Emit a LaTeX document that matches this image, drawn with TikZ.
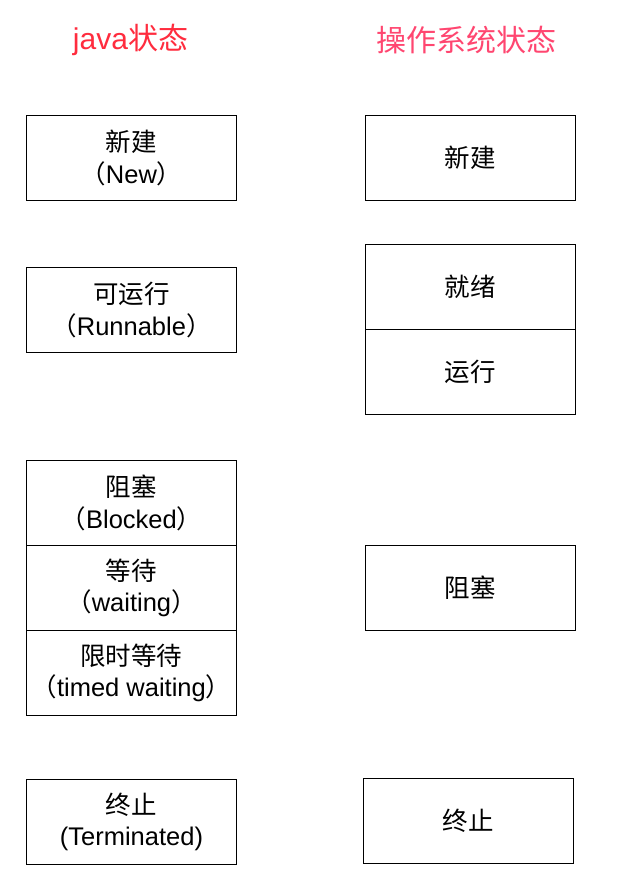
\documentclass[tikz,border=0pt]{standalone}
\usepackage{fontspec}
\setmainfont{Liberation Sans}
\newfontfamily\cjk{Noto Sans CJK SC}
\definecolor{javared}{RGB}{255,44,62}
\definecolor{osred}{RGB}{255,70,112}
\begin{document}
\begin{tikzpicture}[x=1pt,y=-1pt,
  box/.style={draw=black,line width=0.9pt,minimum width=210pt,minimum height=85pt,inner sep=0pt,align=center,font=\fontsize{25.5}{31.5}\selectfont,anchor=north west},
  title/.style={font=\fontsize{30}{35}\selectfont}]
\useasboundingbox (0,0) rectangle (627,895);
% titles
\node[title,text=javared] (tj) at (130.5,40) {java{\cjk 状态}};
\node[title,text=osred] (to) at (466,40) {\cjk 操作系统状态};
% java column
\node[box] (jnew) at (26,115) {{\cjk 新建}\\{\cjk （}New{\cjk ）}};
\node[box] (jrun) at (26,267) {{\cjk 可运行}\\{\cjk （}Runnable{\cjk ）}};
\node[box] (jblk) at (26,460) {{\cjk 阻塞}\\{\cjk （}Blocked{\cjk ）}};
\node[box] (jwait) at (26,545) {{\cjk 等待}\\{\cjk （}waiting{\cjk ）}};
\node[box] (jtw) at (26,630) {{\cjk 限时等待}\\{\cjk （}timed waiting{\cjk ）}};
\node[box] (jterm) at (26,779) {{\cjk 终止}\\(Terminated)};
% os column
\node[box] (onew) at (365,115) {\cjk 新建};
\node[box] (ordy) at (365,244) {\cjk 就绪};
\node[box] (orun) at (365,329) {\cjk 运行};
\node[box] (oblk) at (365,545) {\cjk 阻塞};
\node[box] (oterm) at (363,778) {\cjk 终止};
\end{tikzpicture}
\end{document}
